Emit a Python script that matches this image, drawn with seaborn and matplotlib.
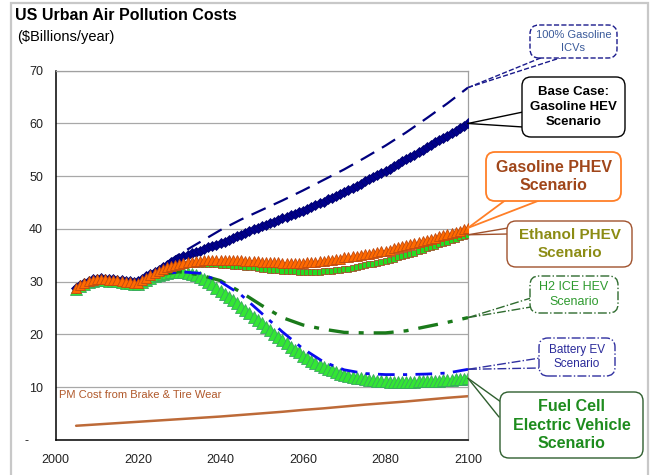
import matplotlib
matplotlib.use("Agg")
import matplotlib.pyplot as plt
import seaborn as sns
from matplotlib.patches import FancyBboxPatch, Rectangle
from matplotlib.lines import Line2D
from matplotlib.transforms import IdentityTransform

# yearly series (marker series) and 5-year series (plain lines)
years = list(range(2005, 2101))
years5 = list(range(2005, 2101, 5))

base_case_hev = [
    28.9, 29.4, 29.8, 30.2, 30.5, 30.6, 30.7, 30.6, 30.5, 30.5, 30.4, 30.3, 30.2, 30.1, 30.0, 30.1,
    30.5, 31.0, 31.5, 31.9, 32.3, 32.8, 33.2, 33.7, 34.1, 34.5,
    34.8, 35.1, 35.4, 35.6, 35.9, 36.2, 36.5, 36.7, 37.0, 37.3,
    37.6, 37.9, 38.3, 38.6, 38.9, 39.2, 39.6, 39.9, 40.2, 40.5,
    40.8, 41.1, 41.4, 41.7, 42.0, 42.3, 42.6, 42.9, 43.2, 43.5,
    43.8, 44.2, 44.5, 44.9, 45.2, 45.6, 45.9, 46.3, 46.6, 47.0,
    47.4, 47.8, 48.2, 48.6, 49.0, 49.4, 49.8, 50.2, 50.6, 51.0,
    51.4, 51.9, 52.3, 52.8, 53.2, 53.7, 54.1, 54.6, 55.0, 55.5,
    55.9, 56.4, 56.8, 57.3, 57.7, 58.2, 58.6, 59.1, 59.5, 60.0,
]

gasoline_phev = [
    28.8, 29.3, 29.7, 30.1, 30.4, 30.5, 30.6, 30.5, 30.4, 30.4, 30.3, 30.2, 30.0, 29.9, 29.8, 29.7,
    30.3, 30.8, 31.2, 31.6, 32.0, 32.4, 32.7, 33.0, 33.2, 33.4,
    33.6, 33.7, 33.8, 33.9, 34.0, 34.1, 34.1, 34.2, 34.2, 34.2,
    34.2, 34.2, 34.2, 34.1, 34.1, 34.0, 34.0, 33.9, 33.9, 33.8,
    33.8, 33.7, 33.7, 33.7, 33.6, 33.6, 33.6, 33.6, 33.6, 33.6,
    33.7, 33.7, 33.8, 33.9, 34.0, 34.1, 34.2, 34.3, 34.4, 34.6,
    34.7, 34.8, 34.9, 35.1, 35.2, 35.3, 35.5, 35.6, 35.8, 35.9,
    36.1, 36.3, 36.5, 36.7, 36.9, 37.1, 37.3, 37.5, 37.7, 37.9,
    38.1, 38.3, 38.6, 38.8, 39.0, 39.2, 39.4, 39.7, 39.9, 40.2,
]

ethanol_phev = [
    28.7, 29.2, 29.6, 30.0, 30.3, 30.4, 30.5, 30.4, 30.3, 30.3, 30.2, 30.1, 29.9, 29.8, 29.7, 29.6,
    30.2, 30.6, 31.0, 31.4, 31.8, 32.1, 32.4, 32.7, 32.9, 33.1,
    33.2, 33.3, 33.4, 33.4, 33.4, 33.4, 33.4, 33.3, 33.3, 33.2,
    33.2, 33.1, 33.0, 33.0, 32.9, 32.8, 32.7, 32.7, 32.6, 32.5,
    32.4, 32.3, 32.3, 32.2, 32.1, 32.1, 32.0, 32.0, 31.9, 31.9,
    31.9, 31.9, 31.9, 31.9, 32.0, 32.0, 32.1, 32.2, 32.3, 32.4,
    32.5, 32.6, 32.8, 32.9, 33.1, 33.3, 33.4, 33.6, 33.8, 34.0,
    34.2, 34.4, 34.6, 34.8, 35.1, 35.3, 35.5, 35.8, 36.0, 36.3,
    36.5, 36.8, 37.1, 37.3, 37.6, 37.9, 38.1, 38.4, 38.6, 38.9,
]

fuel_cell_ev = [
    28.6, 29.1, 29.5, 29.9, 30.2, 30.3, 30.4, 30.3, 30.2, 30.2, 30.1, 30.0, 29.8, 29.7, 29.6, 29.5,
    30.0, 30.4, 30.8, 31.1, 31.3, 31.5, 31.7, 31.8, 31.9, 31.9,
    31.9, 31.7, 31.5, 31.2, 30.9, 30.5, 30.0, 29.5, 28.9, 28.3,
    27.7, 27.1, 26.5, 25.9, 25.3, 24.6, 24.0, 23.4, 22.7, 22.1,
    21.4, 20.8, 20.1, 19.5, 18.9, 18.3, 17.7, 17.1, 16.6, 16.0,
    15.5, 15.0, 14.6, 14.2, 13.8, 13.5, 13.2, 12.9, 12.6, 12.4,
    12.2, 12.0, 11.8, 11.7, 11.5, 11.4, 11.3, 11.2, 11.1, 11.1,
    11.0, 11.0, 11.0, 11.0, 11.0, 11.0, 11.0, 11.1, 11.1, 11.1,
    11.1, 11.2, 11.2, 11.3, 11.3, 11.4, 11.5, 11.5, 11.6, 11.7,
]

gasoline_icv = [28.9, 30.6, 30.4, 30.1, 32.6, 35.2, 37.5, 39.8, 41.8, 43.6,
                45.4, 47.3, 49.3, 51.3, 53.5, 55.8, 58.3, 61.0, 63.8, 66.8]
h2_ice_hev = [28.7, 30.4, 30.2, 29.6, 31.3, 31.9, 31.3, 30.2, 28.0, 25.5,
              23.2, 21.8, 21.0, 20.4, 20.3, 20.3, 20.7, 21.5, 22.3, 23.2]
battery_ev = [28.7, 30.4, 30.2, 29.6, 31.3, 31.9, 31.6, 30.0, 27.5, 24.0,
              20.5, 17.3, 14.8, 13.3, 12.6, 12.4, 12.4, 12.5, 12.7, 13.4]
pm_brake_tire = [2.7, 2.95, 3.2, 3.45, 3.7, 3.95, 4.2, 4.45, 4.75, 5.05,
                 5.35, 5.7, 6.0, 6.35, 6.7, 7.0, 7.3, 7.65, 8.0, 8.3]

ytick_vals = [0, 10, 20, 30, 40, 50, 60, 70]
ytick_labels = ["-    ", "10", "20", "30", "40", "50", "60", "70"]
xtick_vals = [2000, 2020, 2040, 2060, 2080, 2100]

sns.set_theme(style="white")
plt.rcParams["font.family"] = ["Liberation Sans", "DejaVu Sans"]

W, H = 651, 475
fig = plt.figure(figsize=(W / 100, H / 100), dpi=100)
ax = fig.add_axes([55.5 / W, 1 - 440 / H, (468 - 55.5) / W, (440 - 70.7) / H])

# plain lines first, marker series on top
sns.lineplot(x=years5, y=pm_brake_tire, ax=ax, color="#bd6a38", lw=1.8, zorder=2)
sns.lineplot(x=years, y=fuel_cell_ev, ax=ax, color="#33e633", lw=1, marker="^",
             markersize=8.5, markerfacecolor="#33e633", markeredgecolor="#3aa860",
             markeredgewidth=0.6, zorder=2)
sns.lineplot(x=years5, y=h2_ice_hev, ax=ax, color="#1a7a1a", lw=2.4,
             zorder=3).lines[-1].set_dashes([6, 3, 1.5, 3])
sns.lineplot(x=years5, y=battery_ev, ax=ax, color="#0a0aee", lw=2.0,
             zorder=3).lines[-1].set_dashes([6, 3, 1.5, 3])
sns.lineplot(x=years5, y=gasoline_icv, ax=ax, color="#00007f", lw=1.6,
             zorder=3).lines[-1].set_dashes([7, 4])
sns.lineplot(x=years, y=ethanol_phev, ax=ax, color="#22dd22", lw=1, marker="s",
             markersize=4.4, markerfacecolor="#22dd22", markeredgecolor="#a0522d",
             markeredgewidth=0.6, zorder=4)
sns.lineplot(x=years, y=base_case_hev, ax=ax, color="#00008b", lw=1, marker="D",
             markersize=5, markerfacecolor="#00008b", markeredgecolor="#00006a",
             markeredgewidth=0.5, zorder=5)
sns.lineplot(x=years, y=gasoline_phev, ax=ax, color="#ff6a00", lw=1, marker="^",
             markersize=6.5, markerfacecolor="#ff6a00", markeredgecolor="#c04a10",
             markeredgewidth=0.6, zorder=6)

ax.set_xlim(2000, 2100)
ax.set_ylim(0, 70)
ax.set_xticks(xtick_vals)
ax.set_yticks(ytick_vals)
ax.set_yticklabels(ytick_labels)
ax.set_xlabel("")
ax.set_ylabel("")
ax.tick_params(axis="both", direction="out", length=3, width=1, colors="black",
               labelsize=9, labelcolor="#222222")
ax.tick_params(axis="y", pad=6)
ax.tick_params(axis="x", pad=7)
ax.yaxis.grid(True, color="#a8a8a8", lw=0.9)
ax.xaxis.grid(False)
ax.set_axisbelow(True)
for side in ["top", "right"]:
    ax.spines[side].set_color("#a0a0a0")
    ax.spines[side].set_linewidth(0.9)
for side in ["left", "bottom"]:
    ax.spines[side].set_color("black")
    ax.spines[side].set_linewidth(1.1)

# outer frame
fig.patches.append(Rectangle((11 / W, -0.02), 637 / W, 1 - 3 / H + 0.02,
                             transform=fig.transFigure, fill=False,
                             ec="#c8c8c8", lw=1.6, zorder=0))

fig.text(15 / W, 1 - 16 / H, "US Urban Air Pollution Costs", fontsize=11.5,
         fontweight="bold", ha="left", va="center", color="black")
fig.text(17 / W, 1 - 37 / H, "($Billions/year)", fontsize=10.5, ha="left",
         va="center", color="black")
ax.text(2000.8, 8.5, "PM Cost from Brake & Tire Wear", fontsize=8,
        color="#b0582a", ha="left", va="center")


def callout(label, end_value, box, bases, ec, tc, ls="-", bold=False, size=8, lw=1.0):
    x0, y0, x1, y1 = box
    tip = ax.transData.transform((2100, end_value))
    for bx, by in bases:
        fig.add_artist(Line2D([tip[0], bx], [tip[1], H - by], color=ec, lw=lw,
                              ls=ls, transform=IdentityTransform(), zorder=5))
    patch = FancyBboxPatch((x0, H - y1), x1 - x0, y1 - y0,
                           boxstyle="round,pad=0,rounding_size=9",
                           transform=IdentityTransform(), fc="white", ec=ec,
                           lw=lw, ls=ls, zorder=6)
    fig.add_artist(patch)
    fig.text((x0 + x1) / 2 / W, 1 - (y0 + y1) / 2 / H, label, ha="center",
             va="center", multialignment="center", color=tc, fontsize=size,
             fontweight="bold" if bold else "normal", linespacing=1.3, zorder=7)


callout("100% Gasoline\nICVs", gasoline_icv[-1], (530, 25, 617, 58),
        [(543, 57), (563, 57)], "#1a1a8c", "#3a5a9a", ls="--", size=8)
callout("Base Case:\nGasoline HEV\nScenario", base_case_hev[-1], (522, 77, 625, 137),
        [(523, 112), (523, 127)], "black", "black", bold=True, size=9.5)
callout("Gasoline PHEV\nScenario", gasoline_phev[-1], (486, 152, 621, 201),
        [(507, 199), (543, 199)], "#ff7f27", "#a0461a", bold=True, size=11.5, lw=1.3)
callout("Ethanol PHEV\nScenario", ethanol_phev[-1], (507, 221, 632, 267),
        [(508, 228), (508, 234)], "#a0522d", "#8c8c14", bold=True, size=11)
callout("H2 ICE HEV\nScenario", h2_ice_hev[-1], (530, 276, 618, 313),
        [(531, 298), (531, 307)], "#2e6b2e", "#2e9a2e", ls="-.", size=9)
callout("Battery EV\nScenario", battery_ev[-1], (539, 338, 615, 376),
        [(540, 358), (540, 368)], "#3030a0", "#2a2a9a", ls="-.", size=8.5)
callout("Fuel Cell\nElectric Vehicle\nScenario", fuel_cell_ev[-1], (500, 392, 643, 458),
        [(501, 402), (499, 417)], "#2f5f2f", "#1e8c1e", bold=True, size=11.5)

fig.savefig("out.png", dpi=100)
